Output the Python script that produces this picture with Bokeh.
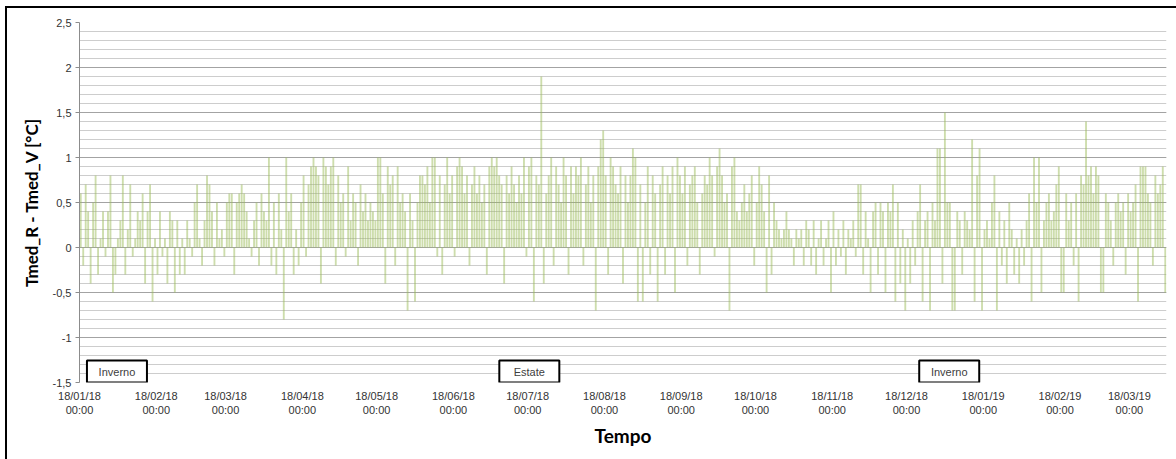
import datetime as dt

from bokeh.core.properties import value
from bokeh.embed import file_html
from bokeh.models import ColumnDataSource, CustomJSTickFormatter, FixedTicker, Range1d
from bokeh.plotting import figure
from bokeh.resources import INLINE

# Daily difference Tmed_R - Tmed_V [°C], one value per day from 18/01/2018
start_date = dt.datetime(2018, 1, 18)

jan_mar_2018 = [0.6, -0.2, 0.7, 0.4, -0.4, 0.5, 0.8, -0.3, 0.1, 0.4,
                -0.1, 0.4, 0.8, -0.5, -0.3, 0.1, 0.3, 0.8, -0.3, 0.2,
                0.7, -0.1, 0.1, 0.4, 0.3, 0.6, -0.4, 0.4, 0.7, -0.6,
                0.1, -0.3, 0.4, -0.1, 0.1, -0.4, 0.4, 0.3, -0.5, 0.3,
                -0.3, 0.1, -0.3, 0.3, 0.1, -0.1, 0.5, 0.7, 0.1, -0.2,
                0.3, 0.8, 0.7, 0.4, -0.2, 0.5, 0.1, 0.2, -0.1, 0.5,
                0.6, 0.6, -0.3, 0.5, 0.6, 0.7, 0.6, 0.4, 0.1, -0.1,
                0.3, 0.5, -0.2, 0.6, 0.4]

apr_jun_2018 = [0.3, 1.0, -0.2, 0.5, -0.3, 0.6, 0.2, -0.8, 1.0, 0.4,
                0.6, -0.3, 0.2, -0.2, 0.5, 0.8, -0.1, 0.7, 0.9, 1.0,
                0.9, 0.8, -0.4, 1.0, 0.9, 0.7, 0.9, 1.0, -0.2, 0.8,
                0.5, 0.6, -0.1, 0.9, 0.3, 0.6, 0.5, -0.2, 0.7, 0.4,
                0.6, 0.3, 0.5, 0.4, 0.3, 1.0, 1.0, 0.6, -0.4, 0.9,
                0.7, 0.8, -0.2, 0.9, 0.5, 0.6, 0.4, -0.7, 0.6, 0.3,
                -0.6, 0.5, 0.8, 0.8, 0.7, 0.9, 0.5, 1.0, 1.0, -0.1,
                0.8, -0.3, 0.7, 1.0, 0.6]

jun_aug_2018 = [0.8, -0.1, 0.9, 1.0, 0.9, 0.6, 0.8, -0.2, 0.7, 0.9,
                0.6, 0.8, 0.5, 0.7, -0.3, 0.9, 1.0, 0.9, 1.0, 0.8,
                0.7, -0.4, 0.8, 0.6, 0.9, 0.7, 0.5, 0.8, 0.6, 1.0,
                -0.1, 0.9, 1.0, -0.6, 0.8, 0.7, 1.9, -0.4, 0.6, 0.8,
                1.0, -0.2, 0.9, 0.7, 0.5, 1.0, 0.8, -0.3, 0.9, 0.6,
                0.9, 0.8, 1.0, -0.2, 0.7, 0.9, 0.5, 0.8, -0.7, 0.9,
                1.2, 1.3, 0.8, -0.3, 1.0, 0.9, 0.7, 0.6, 0.9, -0.4,
                0.8, 0.5]

aug_nov_2018 = [0.8, 1.1, 1.0, -0.6, 0.7, -0.6, 0.5, 0.9, -0.3, 0.8,
                0.6, -0.6, 0.7, 0.9, -0.3, 0.8, 0.6, 0.9, -0.5, 1.0,
                0.8, 0.6, 0.9, -0.2, 0.7, 0.8, 0.9, 0.5, -0.3, 0.6,
                0.8, 0.7, 1.0, 0.8, -0.1, 0.9, 1.1, 0.8, 0.5, 0.6,
                -0.7, 0.9, 1.0, 0.4, 0.3, 0.5, 0.7, 0.4, 0.6, 0.8,
                -0.2, 0.5, 0.9, 0.7, 0.4, -0.5, 0.8, -0.3, 0.5, 0.3,
                0.2, 0.1, 0.2, 0.4, 0.2, 0.1, -0.2, 0.2, 0.1, 0.2,
                -0.2, 0.3, 0.2, -0.2]

nov_jan_2019 = [0.3, -0.3, 0.1, 0.3, -0.2, 0.1, 0.3, -0.5, 0.4, -0.2,
                0.2, -0.1, 0.3, -0.3, 0.2, 0.1, 0.3, -0.1, 0.7, 0.7,
                -0.3, 0.4, 0.1, -0.5, 0.4, 0.5, -0.3, 0.5, 0.4, -0.5,
                0.5, 0.4, 0.7, -0.6, 0.5, -0.4, 0.2, -0.7, 0.1, -0.4,
                0.3, -0.2, 0.4, 0.7, -0.6, 0.3, 0.4, -0.7, 0.5, 0.3,
                1.1, 1.1, -0.4, 1.5, 0.5, 0.5, -0.7, -0.7, 0.4, 0.3,
                -0.3, 0.4, 0.3, 0.2, 1.2, -0.6, 0.8, 1.1, -0.7, 0.2,
                0.3, 0.1]

jan_apr_2019 = [0.5, 0.8, -0.7, 0.4, -0.2, 0.3, -0.4, 0.5, 0.2, -0.3,
                0.1, -0.4, 0.2, -0.2, 0.3, 0.6, -0.6, 1.0, 0.5, 1.0,
                -0.5, 0.3, 0.5, 0.6, 0.3, 0.4, 0.7, 0.9, -0.5, -0.5,
                0.6, 0.3, 0.5, -0.2, 0.6, -0.6, 0.8, 0.7, 1.4, 0.8,
                0.9, 0.6, 0.9, 0.8, -0.5, -0.5, 0.6, 0.5, 0.3, -0.2,
                0.5, 0.6, 0.4, 0.5, -0.3, 0.6, 0.4, 0.5, 0.7, -0.6,
                0.9, 0.9, 0.9, 0.6, 0.5, -0.2, 0.8, 0.6, 0.7, 0.9,
                -0.5]

# Tick dates on the time axis (18th of every month)
tick_dates = [dt.datetime(2018, m, 18) for m in range(1, 13)] + \
             [dt.datetime(2019, m, 18) for m in range(1, 4)]
y_ticks = [-1.5, -1.0, -0.5, 0.0, 0.5, 1.0, 1.5, 2.0, 2.5]

# Season tags
season_names = ["Inverno", "Estate", "Inverno"]
season_dates = [dt.datetime(2018, 2, 2, 3), dt.datetime(2018, 7, 18, 16),
                dt.datetime(2019, 1, 4, 6)]
season_level = [-1.378, -1.378, -1.378]

diff = (jan_mar_2018 + apr_jun_2018 + jun_aug_2018 + aug_nov_2018
        + nov_jan_2019 + jan_apr_2019)
days = [start_date + dt.timedelta(days=i, hours=12) for i in range(len(diff))]

epoch = dt.datetime(1970, 1, 1)


def to_ms(d):
    return (d - epoch).total_seconds() * 1000.0


src = ColumnDataSource(dict(day=days, diff=diff))

p = figure(
    width=1176, height=459,
    x_axis_type="datetime",
    x_range=Range1d(start_date, start_date + dt.timedelta(days=439)),
    y_range=Range1d(-1.5, 2.5),
    output_backend="svg", toolbar_location=None,
    min_border_left=79, min_border_right=10,
    min_border_top=22, min_border_bottom=77,
)
# Black rule along the top and left sides of the chart, drawn as layered
# inset shadows behind a transparent border area (no effect on layout)
p.styles = {"box-shadow": "inset 5px 6px 0 0 white, inset 7px 8px 0 0 black",
            "background-color": "white"}
p.outline_line_color = None
p.background_fill_color = "white"
p.border_fill_color = None

# Horizontal grid: a line every 0.1 °C, stronger every 0.5 °C
minor_levels = [round(-1.5 + 0.1 * i, 1) for i in range(41)]
y_ticker = FixedTicker(ticks=y_ticks, minor_ticks=minor_levels)
p.yaxis.ticker = y_ticker
p.ygrid.ticker = y_ticker
p.ygrid.grid_line_color = "#a3a3a3"
p.ygrid.grid_line_width = 1
p.ygrid.minor_grid_line_color = "#cdcdcd"
p.ygrid.minor_grid_line_width = 1
p.xgrid.grid_line_color = None

p.vbar(x="day", top="diff", bottom=0, width=0.75 * 86400000, source=src,
       fill_color="#9bbb59", fill_alpha=0.5, line_color=None)

# Season boxes
p.rect(x=season_dates, y=season_level, width=60, height=22,
       width_units="screen", height_units="screen",
       fill_color="white", line_color="black", line_width=2)
p.text(x=season_dates, y=season_level, text=season_names,
       text_align="center", text_baseline="middle",
       text_font=value("Liberation Sans"), text_font_size="11px",
       text_color="#404040")

# Y axis
p.yaxis.formatter = CustomJSTickFormatter(code="return String(tick).replace('.', ',');")
p.yaxis.axis_line_color = "#8c8c8c"
p.yaxis.major_tick_line_color = "#8c8c8c"
p.yaxis.major_tick_out = 4
p.yaxis.major_tick_in = 0
p.yaxis.minor_tick_line_color = None
p.yaxis.major_label_text_font = "Liberation Sans"
p.yaxis.major_label_text_font_size = "11px"
p.yaxis.major_label_text_color = "#333333"
p.yaxis.major_label_standoff = 4
p.yaxis.axis_label = "Tmed_R - Tmed_V [°C]"
p.yaxis.axis_label_text_font = "Lato"
p.yaxis.axis_label_text_font_style = "bold"
p.yaxis.axis_label_text_font_size = "17px"
p.yaxis.axis_label_text_color = "black"
p.yaxis.axis_label_standoff = 8

# X axis
p.xaxis.ticker = FixedTicker(ticks=[to_ms(d) for d in tick_dates])
p.xaxis.formatter = CustomJSTickFormatter(code="""
    const d = new Date(tick);
    const dd = String(d.getUTCDate()).padStart(2, '0');
    const mm = String(d.getUTCMonth() + 1).padStart(2, '0');
    const yy = String(d.getUTCFullYear() % 100).padStart(2, '0');
    return dd + '/' + mm + '/' + yy + '\\n00:00';
""")
p.xaxis.axis_line_color = None
p.xaxis.major_tick_line_color = None
p.xaxis.minor_tick_line_color = None
p.xaxis.major_label_text_font = "Liberation Sans"
p.xaxis.major_label_text_font_size = "11px"
p.xaxis.major_label_text_color = "#333333"
p.xaxis.major_label_standoff = 1
p.xaxis.axis_label = "Tempo"
p.xaxis.axis_label_text_font = "Lato"
p.xaxis.axis_label_text_font_style = "bold"
p.xaxis.axis_label_text_font_size = "19px"
p.xaxis.axis_label_text_color = "black"
p.xaxis.axis_label_standoff = 5

open("out.html", "w").write(file_html(p, INLINE))
